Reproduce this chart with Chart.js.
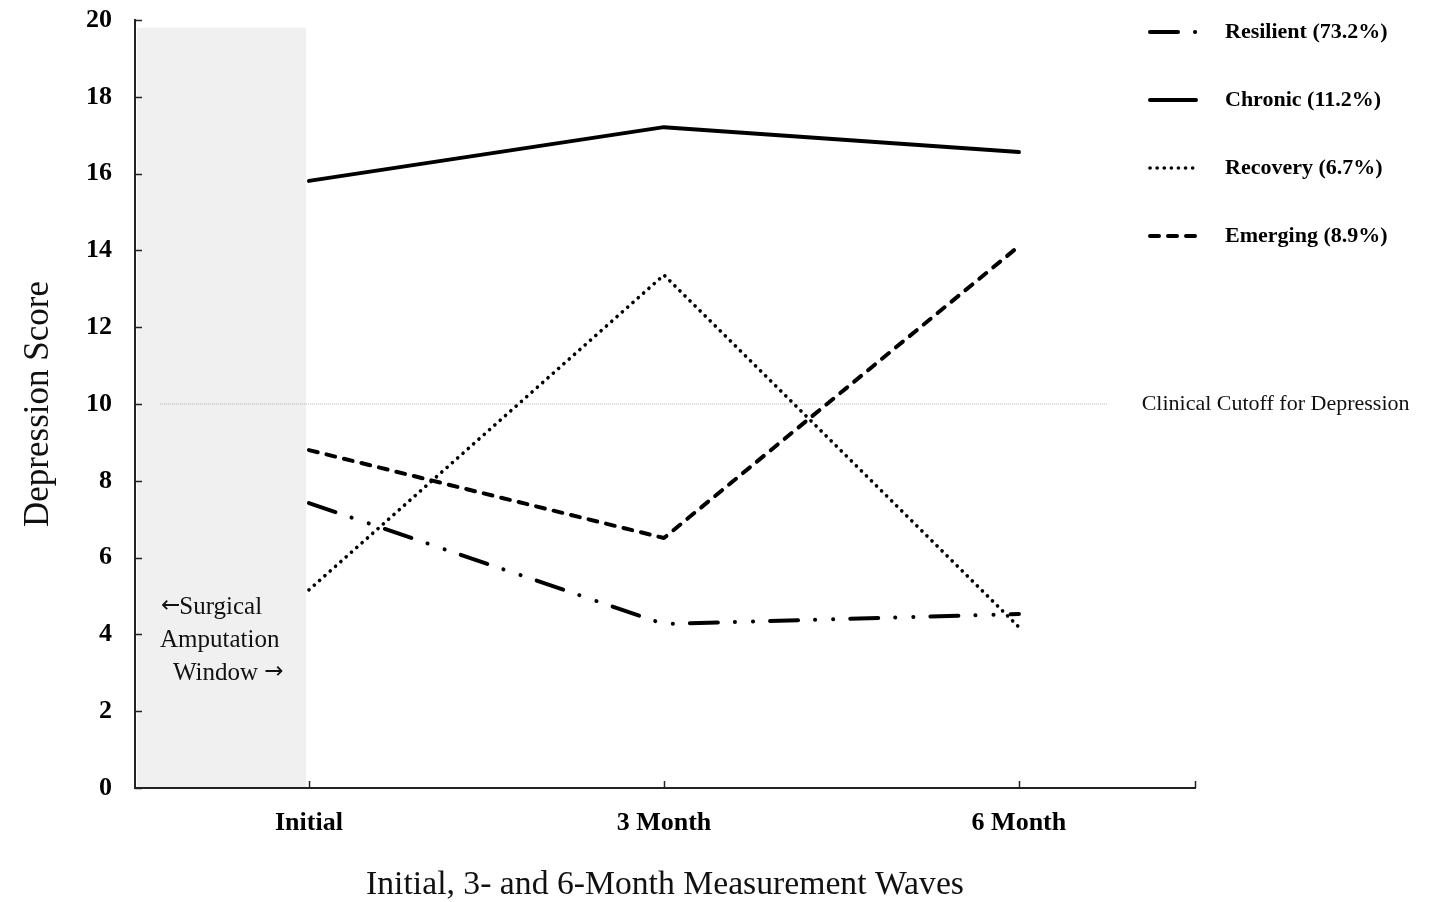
<!DOCTYPE html>
<html><head><meta charset="utf-8">
<script src="https://cdn.jsdelivr.net/npm/chart.js@4"></script>
<style>html,body{margin:0;padding:0;background:#fff}#wrap{width:1432px;height:902px;position:relative}</style>
</head><body><div id="wrap"><canvas id="c" width="1432" height="902"></canvas></div>
<script>
// ---- data ----
const waves = ['Initial', '3 Month', '6 Month'];
const resilient = [7.42, 4.27, 4.53];
const chronic = [15.81, 17.21, 16.56];
const recovery = [5.16, 13.36, 4.19];
const emerging = [8.80, 6.51, 14.11];
const seriesNames = ['Resilient (73.2%)', 'Chronic (11.2%)', 'Recovery (6.7%)', 'Emerging (8.9%)'];
const yTicks = [0, 2, 4, 6, 8, 10, 12, 14, 16, 18, 20];
const cutoffValue = 10;
const cutoffLabel = 'Clinical Cutoff for Depression';
const windowLabel = [['\u2190', 'Surgical'], ['', 'Amputation'], ['Window ', '\u2192']];
const windowTop = 19.8;

const F = "'Liberation Serif', 'Times New Roman', serif";
const AF = "'DejaVu Sans', sans-serif";
const toPts = arr => arr.map((v, i) => ({x: i, y: v}));

const styles = [
  {dash: [28, 17, 0.1, 18, 0.1, 17], width: 4},
  {dash: [], width: 4},
  {dash: [0.1, 7], width: 3.6},
  {dash: [9, 9], width: 4}
];
const seriesData = [resilient, chronic, recovery, emerging];

const datasets = seriesData.map((d, i) => ({
  label: seriesNames[i],
  data: toPts(d),
  borderColor: '#000',
  borderWidth: styles[i].width,
  borderDash: styles[i].dash,
  borderCapStyle: 'round',
  borderJoinStyle: 'round',
  pointRadius: 0,
  tension: 0,
  fill: false,
  order: 1
}));
datasets.push({
  label: 'cutoff',
  data: [{x: -0.42, y: cutoffValue}, {x: 2.25, y: cutoffValue}],
  borderColor: '#b4b4b4',
  borderWidth: 1,
  borderDash: [1, 1],
  pointRadius: 0,
  fill: false,
  order: 10
});

const deco = {
  id: 'deco',
  beforeDatasetsDraw(chart) {
    const {ctx, chartArea: a, scales: {x, y}} = chart;
    ctx.save();
    ctx.fillStyle = '#f0f0f0';
    const x0 = a.left + 2, x1 = x.getPixelForValue(0) - 3, yt = y.getPixelForValue(windowTop);
    ctx.fillRect(x0, yt, x1 - x0, a.bottom - 1 - yt);
    ctx.fillStyle = '#111';
    ctx.textBaseline = 'middle';
    ctx.textAlign = 'left';
    const offs = [26, 25, 38];
    windowLabel.forEach((parts, i) => {
      const ly = y.getPixelForValue(4.7) + i * 33;
      let cx = a.left + offs[i];
      if (i === 0) {
        ctx.font = `23px ${AF}`;
        ctx.fillText(parts[0], cx, ly - 1);
        cx += ctx.measureText(parts[0]).width - 1;
        ctx.font = `25px ${F}`;
        ctx.fillText(parts[1], cx, ly);
      } else if (i === 1) {
        ctx.font = `25px ${F}`;
        ctx.fillText(parts[1], cx, ly);
      } else {
        ctx.font = `25px ${F}`;
        ctx.fillText(parts[0], cx, ly);
        cx += ctx.measureText(parts[0]).width;
        ctx.font = `23px ${AF}`;
        ctx.fillText(parts[1], cx, ly - 1);
      }
    });
    ctx.restore();
  },
  afterDraw(chart) {
    const {ctx, chartArea: a, scales: {x, y}} = chart;
    ctx.save();
    ctx.strokeStyle = '#222';
    ctx.lineWidth = 1.5;
    ctx.beginPath();
    y.ticks.forEach(t => {
      const p = Math.round(y.getPixelForValue(t.value)) + 0.5;
      ctx.moveTo(a.left, p); ctx.lineTo(a.left + 7, p);
    });
    const xs = waves.map((_, i) => x.getPixelForValue(i)).concat([a.right]);
    xs.forEach(px => {
      const p = Math.round(px) + 0.5;
      ctx.moveTo(p, a.bottom); ctx.lineTo(p, a.bottom - 7);
    });
    ctx.stroke();
    ctx.fillStyle = '#111';
    ctx.font = `22px ${F}`;
    ctx.textBaseline = 'middle';
    ctx.textAlign = 'left';
    ctx.fillText(cutoffLabel, x.getPixelForValue(2.25) + 34, y.getPixelForValue(cutoffValue));
    ctx.font = `bold 22px ${F}`;
    seriesNames.forEach((n, i) => {
      const ly = 32 + i * 68;
      ctx.strokeStyle = '#000';
      ctx.lineWidth = styles[i].width;
      ctx.lineCap = 'round';
      ctx.setLineDash(styles[i].dash);
      ctx.beginPath();
      ctx.moveTo(1150, ly); ctx.lineTo(1196, ly);
      ctx.stroke();
      ctx.setLineDash([]);
      ctx.fillStyle = '#000';
      ctx.fillText(n, 1225, ly);
    });
    ctx.restore();
  }
};

new Chart(document.getElementById('c'), {
  type: 'line',
  data: {datasets},
  options: {
    responsive: false,
    animation: false,
    devicePixelRatio: 1,
    layout: {padding: {top: 20, right: 237, left: 0, bottom: 0}},
    plugins: {legend: {display: false}, tooltip: {enabled: false}},
    scales: {
      x: {
        type: 'linear', min: -0.49, max: 2.496,
        afterBuildTicks: s => { s.ticks = waves.map((_, i) => ({value: i})); },
        afterFit: s => { s.height = 114; },
        ticks: {callback: v => waves[v], font: {family: F, size: 26, weight: 'bold'}, color: '#000', padding: 20, maxRotation: 0, autoSkip: false},
        grid: {display: false, drawTicks: false},
        border: {display: true, color: '#222', width: 2},
        title: {display: true, text: 'Initial, 3- and 6-Month Measurement Waves', font: {family: F, size: 33.7, lineHeight: 1}, color: '#111', padding: {top: 0, bottom: 0}}
      },
      y: {
        min: 0, max: 20,
        afterBuildTicks: s => { s.ticks = yTicks.map(v => ({value: v})); },
        afterFit: s => { s.width = 135; s.paddingTop = 0; s.paddingBottom = 0; },
        ticks: {font: {family: F, size: 26, weight: 'bold'}, color: '#000', padding: 23},
        grid: {display: false, drawTicks: false},
        border: {display: true, color: '#222', width: 2},
        title: {display: true, text: 'Depression Score', font: {family: F, size: 35, lineHeight: 1}, color: '#111', padding: {top: 21, bottom: 0}}
      }
    }
  },
  plugins: [deco]
});
</script>
</body></html>
